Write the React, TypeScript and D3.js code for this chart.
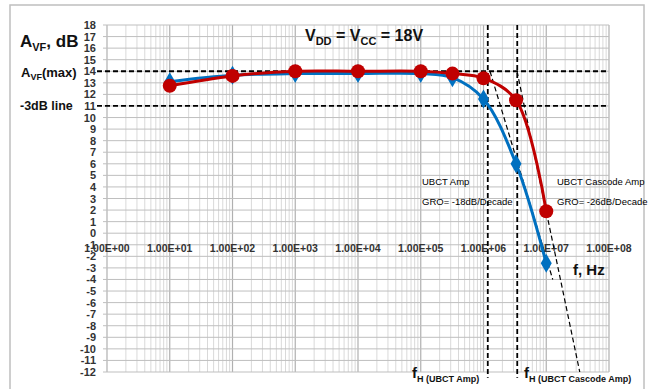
import * as d3 from 'd3';

// frequencies (Hz) of the measured points
const freqs = [1e1, 1e2, 1e3, 1e4, 1e5, 3.2e5, 1e6, 3.3e6, 1e7];
// UBCT Amp gain (dB)
const ubctGain = [13.1, 13.65, 13.8, 13.8, 13.8, 13.45, 11.6, 6.0, -2.6];
// UBCT Cascode Amp gain (dB)
const cascodeGain = [12.75, 13.6, 14.0, 14.0, 14.0, 13.8, 13.4, 11.5, 1.9];

const xTicks = [1e0, 1e1, 1e2, 1e3, 1e4, 1e5, 1e6, 1e7, 1e8];
const xTickLabels = ['1.00E+00', '1.00E+01', '1.00E+02', '1.00E+03', '1.00E+04', '1.00E+05', '1.00E+06', '1.00E+07', '1.00E+08'];
const yTicks = d3.range(-12, 19);

// reference levels
const avfMax = 14;
const minus3dB = 11;
// upper cutoff frequencies
const fhUbct = 1.17e6;
const fhCascode = 3.45e6;
// roll-off asymptotes [freq, dB]
const groUbct = [[1.27e6, 14], [1.27e7, -4]];
const groCascode = [[3.42e6, 14], [3.42e7, -12]];

const W = 651;
const H = 389;
const font = 'Liberation Sans, Arial, sans-serif';

export default function App() {
  const x = d3.scaleLog().domain([1, 1e8]).range([107, 609]);
  const y = d3.scaleLinear().domain([-12, 18]).range([372, 25]);
  const [x0, x1] = x.range();
  const [yb, yt] = y.range();

  const minorX: number[] = [];
  for (let d = 0; d < 8; d++) for (let m = 2; m < 10; m++) minorX.push(m * Math.pow(10, d));

  const line = d3
    .line<number>()
    .x((_, i) => x(freqs[i]))
    .y((v) => y(v))
    .curve(d3.curveCatmullRom.alpha(0.5));

  const diamond = d3.symbol().type(d3.symbolDiamond).size(105)();

  return (
    <svg width={W} height={H} style={{ position: 'absolute', left: 0, top: 0, background: '#fff' }} fontFamily={font}>
      <rect x={10} y={5} width={634} height={395} fill="#fff" stroke="#bfbfbf" strokeWidth={1.5} />

      {/* grid */}
      {minorX.map((f) => (
        <line key={'mx' + f} x1={x(f)} x2={x(f)} y1={yt} y2={yb} stroke="#d9d9d9" strokeWidth={1} />
      ))}
      {xTicks.map((f) => (
        <line key={'Mx' + f} x1={x(f)} x2={x(f)} y1={yt} y2={yb} stroke="#b0b0b0" strokeWidth={1.2} />
      ))}
      {yTicks.map((v) => (
        <line key={'gy' + v} x1={x0 - 4} x2={x1} y1={y(v)} y2={y(v)} stroke="#bfbfbf" strokeWidth={1} />
      ))}

      {/* y tick labels */}
      {yTicks.map((v) => (
        <text key={'ty' + v} x={96} y={y(v) + 4} textAnchor="end" fontSize={11} fontWeight="bold" fill="#333">
          {v}
        </text>
      ))}
      {/* x tick labels */}
      {xTicks.map((f, i) => (
        <text key={'tx' + f} x={x(f)} y={y(0) + 19} textAnchor="middle" fontSize={10.5} fontWeight="bold" fill="#333">
          {xTickLabels[i]}
        </text>
      ))}

      {/* reference dashed lines */}
      <line x1={x0 - 10} x2={x1} y1={y(avfMax)} y2={y(avfMax)} stroke="#000" strokeWidth={1.8} strokeDasharray="5,3" />
      <line x1={x0 - 10} x2={x1} y1={y(minus3dB)} y2={y(minus3dB)} stroke="#000" strokeWidth={1.8} strokeDasharray="5,3" />
      <line x1={x(fhUbct)} x2={x(fhUbct)} y1={yt} y2={y(-12.5)} stroke="#000" strokeWidth={1.8} strokeDasharray="5,3" />
      <line x1={x(fhCascode)} x2={x(fhCascode)} y1={yt} y2={y(-12.5)} stroke="#000" strokeWidth={1.8} strokeDasharray="5,3" />
      {[groUbct, groCascode].map((g, i) => (
        <line key={'gro' + i} x1={x(g[0][0])} y1={y(g[0][1])} x2={x(g[1][0])} y2={y(g[1][1])} stroke="#000" strokeWidth={1.2} strokeDasharray="5,3" />
      ))}

      {/* series */}
      <path d={line(ubctGain) || ''} fill="none" stroke="#0070C0" strokeWidth={3} />
      {ubctGain.map((v, i) => (
        <path key={'b' + i} d={diamond || ''} transform={`translate(${x(freqs[i])},${y(v)})`} fill="#0070C0" />
      ))}
      <path d={line(cascodeGain) || ''} fill="none" stroke="#C00000" strokeWidth={3} />
      {cascodeGain.map((v, i) => (
        <circle key={'r' + i} cx={x(freqs[i])} cy={y(v)} r={7} fill="#C00000" />
      ))}

      {/* labels */}
      <text x={20} y={47} fontSize={17} fontWeight="bold" fill="#111">
        A<tspan fontSize={11} dy={4}>VF</tspan>
        <tspan dy={-4}>, dB</tspan>
      </text>
      <text x={21} y={77} fontSize={13} fontWeight="bold" fill="#111">
        A<tspan fontSize={9} dy={3}>VF</tspan>
        <tspan dy={-3}>(max)</tspan>
      </text>
      <text x={20} y={110} fontSize={12.5} fontWeight="bold" fill="#111">-3dB line</text>

      <text x={305} y={41} fontSize={16} fontWeight="bold" fill="#111">
        V<tspan fontSize={11} dy={4}>DD</tspan>
        <tspan dy={-4}> = V</tspan>
        <tspan fontSize={11} dy={4}>CC</tspan>
        <tspan dy={-4}> = 18V</tspan>
      </text>

      <text x={573} y={275} fontSize={15} fontWeight="bold" fill="#111">f, Hz</text>

      <text x={422} y={185} fontSize={9.5} fill="#000">UBCT Amp</text>
      <text x={422} y={205} fontSize={9.5} fill="#000">GRO= -18dB/Decade</text>
      <text x={557} y={185} fontSize={9.5} fill="#000">UBCT Cascode Amp</text>
      <text x={557} y={205} fontSize={9.5} fill="#000">GRO= -26dB/Decade</text>

      <text x={412} y={378} fontSize={15} fontWeight="bold" fill="#111">
        f<tspan fontSize={9} dy={4}>H (UBCT Amp)</tspan>
      </text>
      <text x={524} y={378} fontSize={15} fontWeight="bold" fill="#111">
        f<tspan fontSize={9} dy={4}>H (UBCT Cascode Amp)</tspan>
      </text>
    </svg>
  );
}
